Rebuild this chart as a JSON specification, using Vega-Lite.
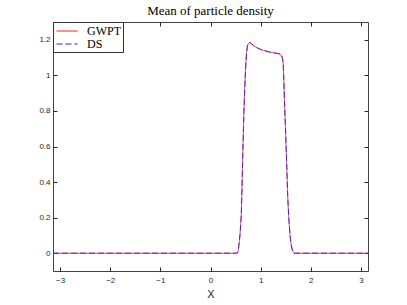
{
  "$schema": "https://vega.github.io/schema/vega-lite/v6.json",
  "width": 315,
  "height": 249,
  "autosize": "none",
  "padding": {"left": 53, "top": 22, "right": 39, "bottom": 34},
  "background": "white",
  "title": {"text": "Mean of particle density", "font": "Liberation Serif", "fontSize": 13, "fontWeight": "normal", "color": "#000", "baseline": "alphabetic", "offset": -6, "anchor": "middle"},
  "config": {
    "view": {"stroke": "#444", "strokeWidth": 1},
    "axis": {"grid": false, "labelFont": "Liberation Sans", "labelFontSize": 8, "labelColor": "#262626", "tickColor": "#262626", "domain": false, "titleFont": "Liberation Sans", "titleFontSize": 11, "titleFontWeight": "normal", "titleColor": "#262626"}
  },
  "data": {"values": [
    {"x": -3.1416, "y": 0, "s": "GWPT"},
    {"x": 0.5, "y": 0, "s": "GWPT"},
    {"x": 0.533, "y": 0, "s": "GWPT"},
    {"x": 0.55, "y": 0.008, "s": "GWPT"},
    {"x": 0.573, "y": 0.06, "s": "GWPT"},
    {"x": 0.593, "y": 0.12, "s": "GWPT"},
    {"x": 0.613, "y": 0.21, "s": "GWPT"},
    {"x": 0.627, "y": 0.35, "s": "GWPT"},
    {"x": 0.64, "y": 0.51, "s": "GWPT"},
    {"x": 0.653, "y": 0.65, "s": "GWPT"},
    {"x": 0.666, "y": 0.79, "s": "GWPT"},
    {"x": 0.68, "y": 0.9, "s": "GWPT"},
    {"x": 0.693, "y": 0.996, "s": "GWPT"},
    {"x": 0.706, "y": 1.07, "s": "GWPT"},
    {"x": 0.719, "y": 1.127, "s": "GWPT"},
    {"x": 0.733, "y": 1.158, "s": "GWPT"},
    {"x": 0.746, "y": 1.174, "s": "GWPT"},
    {"x": 0.766, "y": 1.182, "s": "GWPT"},
    {"x": 0.786, "y": 1.185, "s": "GWPT"},
    {"x": 0.82, "y": 1.177, "s": "GWPT"},
    {"x": 0.865, "y": 1.165, "s": "GWPT"},
    {"x": 0.93, "y": 1.155, "s": "GWPT"},
    {"x": 0.998, "y": 1.146, "s": "GWPT"},
    {"x": 1.06, "y": 1.14, "s": "GWPT"},
    {"x": 1.13, "y": 1.135, "s": "GWPT"},
    {"x": 1.2, "y": 1.13, "s": "GWPT"},
    {"x": 1.26, "y": 1.127, "s": "GWPT"},
    {"x": 1.32, "y": 1.124, "s": "GWPT"},
    {"x": 1.38, "y": 1.12, "s": "GWPT"},
    {"x": 1.40, "y": 1.117, "s": "GWPT"},
    {"x": 1.42, "y": 1.11, "s": "GWPT"},
    {"x": 1.435, "y": 1.095, "s": "GWPT"},
    {"x": 1.45, "y": 1.07, "s": "GWPT"},
    {"x": 1.462, "y": 0.98, "s": "GWPT"},
    {"x": 1.475, "y": 0.86, "s": "GWPT"},
    {"x": 1.496, "y": 0.7, "s": "GWPT"},
    {"x": 1.52, "y": 0.5, "s": "GWPT"},
    {"x": 1.54, "y": 0.32, "s": "GWPT"},
    {"x": 1.565, "y": 0.18, "s": "GWPT"},
    {"x": 1.59, "y": 0.09, "s": "GWPT"},
    {"x": 1.61, "y": 0.045, "s": "GWPT"},
    {"x": 1.635, "y": 0.015, "s": "GWPT"},
    {"x": 1.67, "y": 0, "s": "GWPT"},
    {"x": 3.1416, "y": 0, "s": "GWPT"},
    {"x": -3.1416, "y": 0, "s": "DS"},
    {"x": 0.5, "y": 0, "s": "DS"},
    {"x": 0.533, "y": 0, "s": "DS"},
    {"x": 0.55, "y": 0.008, "s": "DS"},
    {"x": 0.573, "y": 0.06, "s": "DS"},
    {"x": 0.593, "y": 0.12, "s": "DS"},
    {"x": 0.613, "y": 0.21, "s": "DS"},
    {"x": 0.627, "y": 0.35, "s": "DS"},
    {"x": 0.64, "y": 0.51, "s": "DS"},
    {"x": 0.653, "y": 0.65, "s": "DS"},
    {"x": 0.666, "y": 0.79, "s": "DS"},
    {"x": 0.68, "y": 0.9, "s": "DS"},
    {"x": 0.693, "y": 0.996, "s": "DS"},
    {"x": 0.706, "y": 1.07, "s": "DS"},
    {"x": 0.719, "y": 1.127, "s": "DS"},
    {"x": 0.733, "y": 1.158, "s": "DS"},
    {"x": 0.746, "y": 1.174, "s": "DS"},
    {"x": 0.766, "y": 1.182, "s": "DS"},
    {"x": 0.786, "y": 1.185, "s": "DS"},
    {"x": 0.82, "y": 1.177, "s": "DS"},
    {"x": 0.865, "y": 1.165, "s": "DS"},
    {"x": 0.93, "y": 1.155, "s": "DS"},
    {"x": 0.998, "y": 1.146, "s": "DS"},
    {"x": 1.06, "y": 1.14, "s": "DS"},
    {"x": 1.13, "y": 1.135, "s": "DS"},
    {"x": 1.2, "y": 1.13, "s": "DS"},
    {"x": 1.26, "y": 1.127, "s": "DS"},
    {"x": 1.32, "y": 1.124, "s": "DS"},
    {"x": 1.38, "y": 1.12, "s": "DS"},
    {"x": 1.40, "y": 1.117, "s": "DS"},
    {"x": 1.42, "y": 1.11, "s": "DS"},
    {"x": 1.435, "y": 1.095, "s": "DS"},
    {"x": 1.45, "y": 1.07, "s": "DS"},
    {"x": 1.462, "y": 0.98, "s": "DS"},
    {"x": 1.475, "y": 0.86, "s": "DS"},
    {"x": 1.496, "y": 0.7, "s": "DS"},
    {"x": 1.52, "y": 0.5, "s": "DS"},
    {"x": 1.54, "y": 0.32, "s": "DS"},
    {"x": 1.565, "y": 0.18, "s": "DS"},
    {"x": 1.59, "y": 0.09, "s": "DS"},
    {"x": 1.61, "y": 0.045, "s": "DS"},
    {"x": 1.635, "y": 0.015, "s": "DS"},
    {"x": 1.67, "y": 0, "s": "DS"},
    {"x": 3.1416, "y": 0, "s": "DS"}
  ]},
  "layer": [
    {
      "mark": {"type": "line", "strokeWidth": 0.9, "clip": true},
      "encoding": {
        "x": {"field": "x", "type": "quantitative", "scale": {"domain": [-3.1416, 3.1416], "nice": false, "zero": false},
              "axis": {"orient": "bottom", "values": [-3, -2, -1, 0, 1, 2, 3], "format": "d", "title": "X", "tickSize": -4, "labelPadding": 9, "titlePadding": 4}},
        "y": {"field": "y", "type": "quantitative", "scale": {"domain": [-0.1, 1.3], "nice": false, "zero": false},
              "axis": {"orient": "left", "values": [0, 0.2, 0.4, 0.6, 0.8, 1, 1.2], "format": "~g", "title": null, "tickSize": -4, "labelPadding": 7}},
        "color": {"field": "s", "type": "nominal", "sort": ["GWPT", "DS"],
                  "scale": {"domain": ["GWPT", "DS"], "range": ["#ff2020", "#2020ff"]},
                  "legend": {"orient": "top-left", "offset": 0, "title": null, "fillColor": "white", "strokeColor": "#333", "padding": 2,
                             "labelFont": "Liberation Serif", "labelFontSize": 12, "labelColor": "#000", "labelOffset": 13,
                             "symbolType": "M-1.75,0H1.75", "symbolSize": 144, "symbolOffset": 5, "symbolStrokeWidth": 1.2, "rowPadding": 0,
                             "encode": {"symbols": {"update": {"stroke": {"scale": "color", "field": "value"}}}}}},
        "strokeDash": {"field": "s", "type": "nominal", "sort": ["GWPT", "DS"],
                       "scale": {"domain": ["GWPT", "DS"], "range": [[1, 0], [6, 3]]}}
      }
    },
    {
      "mark": {"type": "rule", "opacity": 0},
      "encoding": {
        "x": {"datum": 0, "type": "quantitative", "axis": {"orient": "top", "values": [-3, -2, -1, 0, 1, 2, 3], "labels": false, "title": null, "tickSize": -4}},
        "y": {"datum": 0, "type": "quantitative", "axis": {"orient": "right", "values": [0, 0.2, 0.4, 0.6, 0.8, 1, 1.2], "labels": false, "title": null, "tickSize": -4}}
      }
    }
  ],
  "resolve": {"axis": {"x": "independent", "y": "independent"}}
}
